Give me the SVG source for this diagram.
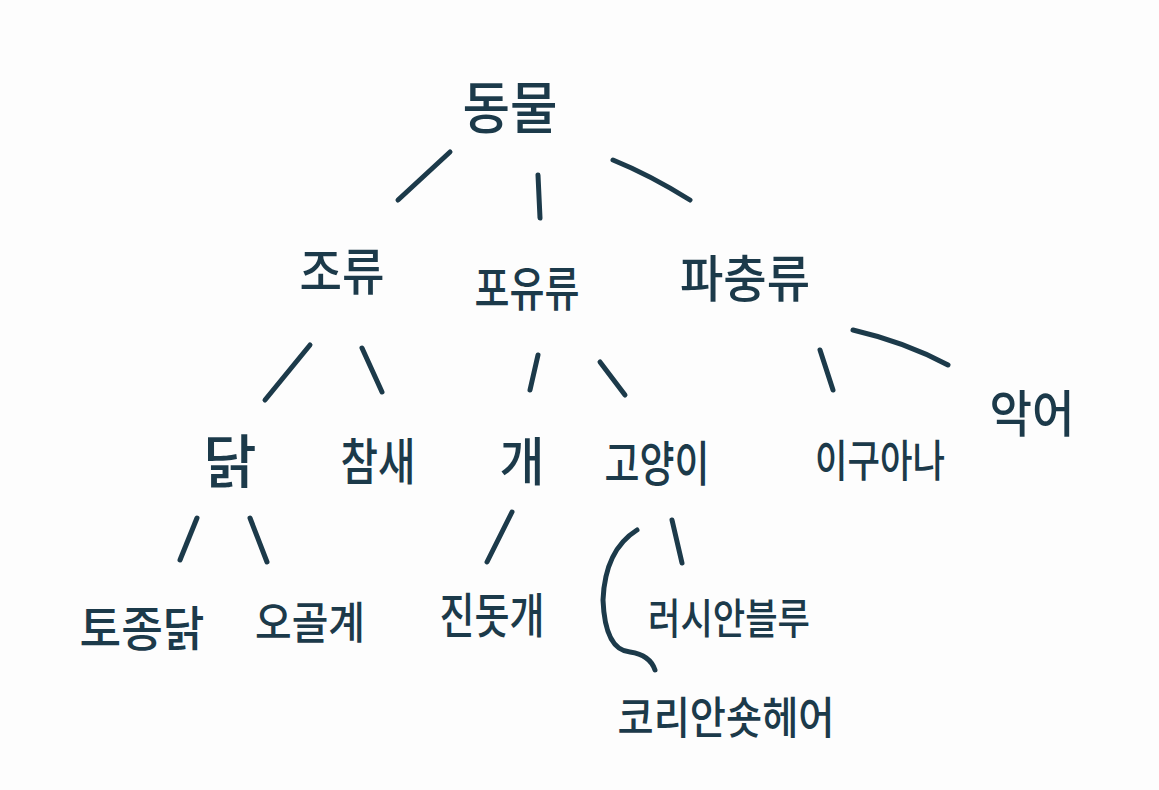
<svg xmlns="http://www.w3.org/2000/svg" width="1159" height="790" viewBox="0 0 1159 790">
<style>
.t{font-family:"Noto Sans CJK KR","Noto Sans",sans-serif;fill:#1c3a4a;font-weight:500;text-anchor:middle;dominant-baseline:central}
.c{fill:none;stroke:#1c3a4a;stroke-width:5;stroke-linecap:round;stroke-linejoin:round}
</style>
<rect width="1159" height="790" fill="#fdfdfd"/>
<g id="connectors" class="c">
<path d="M398 200 L450 152"/>
<path d="M538 175 L540 218"/>
<path d="M613 160 Q650 175 690 200"/>
<path d="M265 400 L310 345"/>
<path d="M362 348 L382 392"/>
<path d="M530 390 L538 355"/>
<path d="M600 362 L625 395"/>
<path d="M820 350 L833 390"/>
<path d="M853 330 Q905 342 948 365"/>
<path d="M180 560 L197 518"/>
<path d="M250 518 L267 562"/>
<path d="M487 562 L512 512"/>
<path d="M672 520 L682 563"/>
<path d="M637 530 Q605 550 603 600 Q605 650 630 652 Q650 655 655 670"/>
</g>
<g id="n-animal"><text class="t" x="510" y="103" font-size="56" textLength="95" lengthAdjust="spacingAndGlyphs">동물</text></g>
<g id="n-bird"><text class="t" x="342" y="268" font-size="50" textLength="85" lengthAdjust="spacingAndGlyphs">조류</text></g>
<g id="n-mammal"><text class="t" x="527" y="285" font-size="48" textLength="105" lengthAdjust="spacingAndGlyphs">포유류</text></g>
<g id="n-reptile"><text class="t" x="745" y="275" font-size="50" textLength="130" lengthAdjust="spacingAndGlyphs">파충류</text></g>
<g id="n-chicken"><text class="t" x="230" y="458" font-size="58">닭</text></g>
<g id="n-sparrow"><text class="t" x="378" y="458" font-size="50" textLength="75" lengthAdjust="spacingAndGlyphs">참새</text></g>
<g id="n-dog"><text class="t" x="522" y="458" font-size="52" textLength="45" lengthAdjust="spacingAndGlyphs">개</text></g>
<g id="n-cat"><text class="t" x="657" y="460" font-size="48" textLength="105" lengthAdjust="spacingAndGlyphs">고양이</text></g>
<g id="n-iguana"><text class="t" x="880" y="458" font-size="44" textLength="130" lengthAdjust="spacingAndGlyphs">이구아나</text></g>
<g id="n-croc"><text class="t" x="1032" y="410" font-size="50" textLength="85" lengthAdjust="spacingAndGlyphs">악어</text></g>
<g id="n-native"><text class="t" x="142" y="625" font-size="48" textLength="125" lengthAdjust="spacingAndGlyphs">토종닭</text></g>
<g id="n-silkie"><text class="t" x="310" y="620" font-size="44" textLength="110" lengthAdjust="spacingAndGlyphs">오골계</text></g>
<g id="n-jindo"><text class="t" x="492" y="612" font-size="48" textLength="105" lengthAdjust="spacingAndGlyphs">진돗개</text></g>
<g id="n-russian"><text class="t" x="729" y="615" font-size="42" textLength="162" lengthAdjust="spacingAndGlyphs">러시안블루</text></g>
<g id="n-korean"><text class="t" x="726" y="715" font-size="44" textLength="217" lengthAdjust="spacingAndGlyphs">코리안숏헤어</text></g>
</svg>
